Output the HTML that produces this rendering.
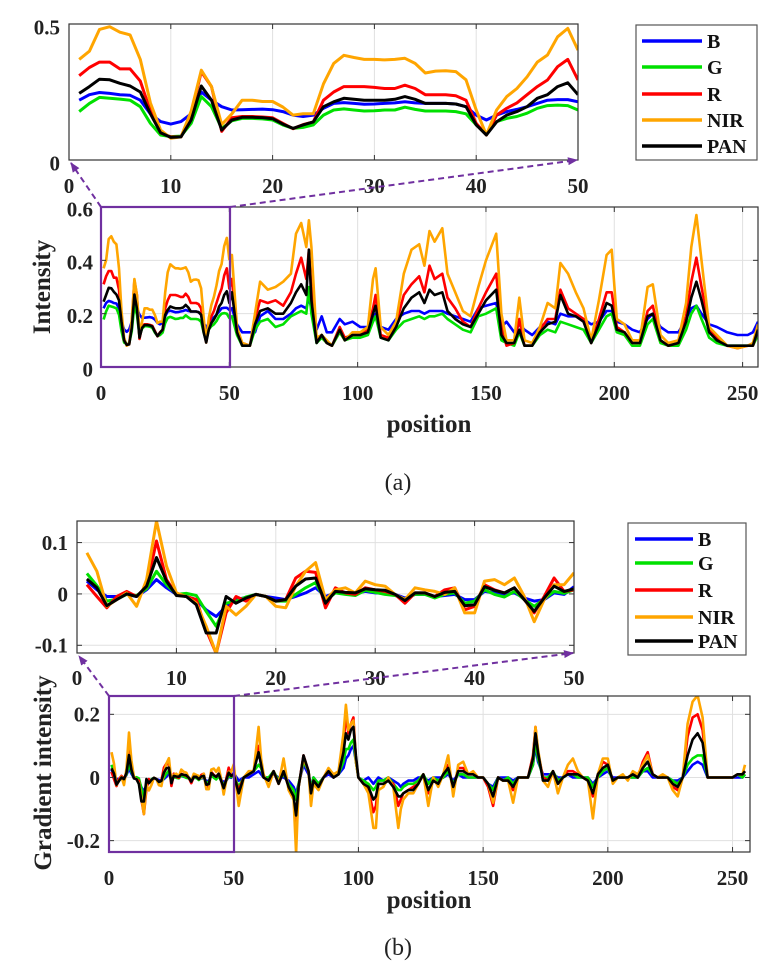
<!DOCTYPE html>
<html><head><meta charset="utf-8"><style>
html,body{margin:0;padding:0;background:#fff;}
svg{display:block;}
text{font-family:"Liberation Serif",serif;}
</style></head>
<body>
<svg id="fig" width="783" height="966" viewBox="0 0 783 966" xmlns="http://www.w3.org/2000/svg"></svg>
<script>
// ===== DATA =====
const seriesNames = ["B","G","R","NIR","PAN"];
const seriesColors = ["#0000ff","#00e000","#ff0000","#ffa500","#000000"];

// Panel (a) inset: positions 1..50
const aInsetPos = [1,2,3,4,5,6,7,8,9,10,11,12,13,14,15,16,17,18,19,20,21,22,23,24,25,26,27,28,29,30,31,32,33,34,35,36,37,38,39,40,41,42,43,44,45,46,47,48,49,50];
const aInsetB = [0.22,0.24,0.248,0.245,0.24,0.238,0.22,0.17,0.141,0.132,0.141,0.17,0.25,0.22,0.196,0.184,0.185,0.186,0.187,0.185,0.178,0.165,0.16,0.165,0.19,0.208,0.211,0.208,0.205,0.206,0.208,0.21,0.214,0.21,0.208,0.208,0.208,0.206,0.196,0.165,0.147,0.165,0.178,0.186,0.196,0.208,0.22,0.222,0.222,0.214];
const aInsetG = [0.178,0.208,0.23,0.227,0.224,0.22,0.196,0.135,0.092,0.086,0.088,0.135,0.233,0.196,0.116,0.144,0.153,0.153,0.151,0.147,0.129,0.116,0.12,0.129,0.165,0.184,0.188,0.184,0.18,0.181,0.184,0.184,0.194,0.186,0.18,0.18,0.18,0.178,0.17,0.129,0.098,0.141,0.153,0.16,0.172,0.19,0.2,0.202,0.2,0.184];
const aInsetR = [0.31,0.34,0.36,0.36,0.335,0.335,0.29,0.18,0.10,0.085,0.085,0.17,0.325,0.27,0.105,0.155,0.16,0.16,0.158,0.155,0.135,0.115,0.13,0.14,0.22,0.25,0.27,0.27,0.27,0.267,0.263,0.263,0.275,0.263,0.24,0.24,0.24,0.236,0.22,0.135,0.092,0.165,0.19,0.21,0.24,0.27,0.294,0.343,0.37,0.294];
const aInsetNIR = [0.37,0.40,0.48,0.49,0.47,0.46,0.37,0.21,0.11,0.08,0.085,0.18,0.33,0.27,0.13,0.17,0.22,0.22,0.215,0.215,0.195,0.165,0.17,0.17,0.28,0.355,0.385,0.377,0.37,0.37,0.368,0.37,0.374,0.355,0.32,0.327,0.328,0.325,0.295,0.184,0.092,0.184,0.233,0.263,0.306,0.36,0.386,0.453,0.484,0.404];
const aInsetPAN = [0.245,0.27,0.297,0.295,0.282,0.272,0.25,0.17,0.10,0.083,0.085,0.147,0.272,0.22,0.11,0.147,0.157,0.157,0.156,0.152,0.132,0.116,0.129,0.14,0.196,0.214,0.227,0.223,0.22,0.22,0.22,0.223,0.233,0.223,0.208,0.208,0.208,0.206,0.196,0.129,0.092,0.14,0.165,0.178,0.196,0.227,0.24,0.27,0.284,0.24];

// Panel (a) main continuation beyond 50
const aMainPos = [51,53,55,58,60,62,65,68,71,74,76,78,80,81,82,84,86,88,90,93,95,98,101,104,106,107,109,112,115,118,121,124,126,128,130,133,135,138,141,144,147,150,154,156,158,161,163,165,168,171,174,177,179,182,185,188,191,194,197,199,201,204,207,210,213,215,218,221,225,228,230,232,234,237,240,244,248,252,254,256];
const aMainNIR = [0.42,0.15,0.09,0.08,0.2,0.32,0.29,0.3,0.32,0.35,0.5,0.54,0.45,0.55,0.45,0.11,0.12,0.1,0.08,0.14,0.1,0.13,0.13,0.15,0.33,0.37,0.15,0.12,0.17,0.35,0.44,0.46,0.38,0.51,0.47,0.52,0.35,0.28,0.21,0.19,0.3,0.4,0.5,0.2,0.1,0.1,0.26,0.1,0.09,0.15,0.24,0.22,0.39,0.35,0.28,0.22,0.1,0.25,0.42,0.44,0.18,0.16,0.1,0.1,0.3,0.31,0.12,0.09,0.1,0.24,0.45,0.57,0.4,0.15,0.12,0.08,0.07,0.08,0.09,0.16];
const aMainR = [0.33,0.14,0.09,0.08,0.18,0.25,0.24,0.25,0.23,0.28,0.35,0.41,0.33,0.44,0.3,0.1,0.12,0.09,0.08,0.15,0.11,0.12,0.12,0.14,0.22,0.27,0.12,0.11,0.16,0.27,0.31,0.34,0.28,0.38,0.33,0.35,0.26,0.22,0.17,0.15,0.22,0.28,0.35,0.15,0.08,0.09,0.18,0.08,0.08,0.14,0.18,0.18,0.29,0.22,0.2,0.18,0.09,0.18,0.28,0.28,0.15,0.13,0.09,0.09,0.21,0.23,0.1,0.08,0.09,0.19,0.32,0.41,0.3,0.14,0.11,0.08,0.07,0.08,0.08,0.14];
const aMainPAN = [0.28,0.13,0.08,0.08,0.16,0.21,0.22,0.2,0.2,0.24,0.28,0.31,0.27,0.44,0.25,0.09,0.12,0.09,0.08,0.14,0.1,0.12,0.12,0.13,0.2,0.23,0.11,0.1,0.15,0.22,0.26,0.28,0.24,0.29,0.27,0.28,0.21,0.18,0.16,0.15,0.2,0.25,0.29,0.12,0.09,0.09,0.14,0.08,0.08,0.13,0.16,0.17,0.27,0.2,0.19,0.17,0.09,0.16,0.24,0.23,0.14,0.13,0.09,0.09,0.19,0.2,0.1,0.08,0.09,0.17,0.26,0.32,0.25,0.13,0.1,0.08,0.08,0.08,0.08,0.14];
const aMainB = [0.22,0.16,0.13,0.13,0.13,0.19,0.21,0.18,0.18,0.2,0.22,0.23,0.22,0.26,0.22,0.14,0.19,0.13,0.13,0.18,0.16,0.17,0.15,0.15,0.17,0.2,0.15,0.14,0.18,0.2,0.21,0.21,0.2,0.21,0.21,0.21,0.2,0.19,0.18,0.17,0.22,0.23,0.24,0.15,0.17,0.13,0.16,0.14,0.12,0.15,0.17,0.16,0.2,0.19,0.19,0.18,0.16,0.17,0.21,0.21,0.17,0.16,0.14,0.13,0.18,0.2,0.15,0.13,0.13,0.18,0.22,0.23,0.2,0.16,0.15,0.13,0.12,0.12,0.13,0.17];
const aMainG = [0.19,0.12,0.08,0.08,0.14,0.17,0.18,0.15,0.16,0.19,0.2,0.21,0.2,0.3,0.2,0.09,0.11,0.09,0.08,0.13,0.1,0.11,0.11,0.12,0.17,0.19,0.11,0.1,0.14,0.17,0.18,0.19,0.18,0.19,0.19,0.2,0.18,0.16,0.14,0.13,0.19,0.2,0.22,0.1,0.09,0.08,0.13,0.08,0.08,0.12,0.14,0.13,0.17,0.16,0.15,0.14,0.09,0.14,0.19,0.2,0.13,0.12,0.08,0.08,0.16,0.18,0.09,0.08,0.08,0.14,0.2,0.23,0.18,0.11,0.09,0.08,0.08,0.08,0.08,0.12];

// Panel (b) inset: positions 1..50
const bInsetPos = aInsetPos;
const bInsetNIR = [0.080,0.044,-0.024,-0.011,0.002,-0.024,0.028,0.142,0.054,0.002,-0.005,-0.018,-0.063,-0.116,-0.024,-0.041,-0.024,-0.001,-0.005,-0.024,-0.027,0.015,0.044,0.061,-0.011,0.008,0.012,0.002,0.025,0.018,0.015,-0.001,-0.011,0.012,0.008,0.005,-0.001,0.012,-0.037,-0.037,0.025,0.028,0.018,0.031,-0.005,-0.054,-0.011,0.018,0.018,0.041];
const bInsetR = [0.018,-0.005,-0.027,-0.005,0.005,-0.005,0.015,0.103,0.028,-0.001,-0.005,-0.011,-0.070,-0.116,-0.037,-0.005,-0.014,-0.001,-0.005,-0.014,-0.011,0.031,0.044,0.042,-0.027,0.012,0.002,-0.001,0.012,0.008,0.005,-0.001,-0.018,0.002,0.002,-0.005,0.008,0.012,-0.031,-0.024,0.018,0.008,0.002,0.012,-0.011,-0.037,-0.005,0.031,0.005,0.008];
const bInsetPAN = [0.029,0.012,-0.023,-0.011,0,-0.005,0.015,0.071,0.025,-0.003,-0.005,-0.021,-0.076,-0.076,-0.005,-0.018,-0.008,-0.001,-0.005,-0.014,-0.011,0.015,0.029,0.031,-0.018,0.005,0.003,0.002,0.010,0.008,0.007,-0.001,-0.013,0.002,0.002,-0.005,0.003,0.005,-0.023,-0.021,0.014,0.007,0.002,0.012,-0.011,-0.034,-0.008,0.015,0.005,0.010];
const bInsetB = [0.025,0.008,-0.005,-0.005,-0.001,-0.005,0.008,0.028,0.012,-0.001,-0.005,-0.011,-0.031,-0.044,-0.024,-0.011,-0.007,-0.001,-0.005,-0.008,-0.011,-0.005,0.002,0.012,-0.005,0.002,0.002,0.001,0.005,0.002,0.001,-0.001,-0.008,-0.001,-0.001,-0.005,-0.003,-0.001,-0.011,-0.011,0.005,0.002,-0.001,0.002,-0.008,-0.014,-0.011,0.002,-0.001,0.014];
const bInsetG = [0.040,0.016,-0.014,-0.010,-0.001,-0.003,0.010,0.044,0.018,-0.001,0.001,-0.003,-0.034,-0.063,-0.018,-0.014,-0.006,-0.001,-0.005,-0.014,-0.014,-0.001,0.012,0.022,-0.014,0.002,-0.001,-0.003,0.007,0.003,-0.001,-0.003,-0.010,-0.001,-0.001,-0.008,-0.001,0.002,-0.018,-0.014,0.008,-0.001,-0.006,0.005,-0.011,-0.024,-0.010,0.005,0.001,0.008];

// Panel (b) main continuation beyond 50
const bMainPos = [52,54,56,58,60,61,62,64,66,68,70,72,74,75,76,78,80,81,82,84,86,88,90,92,94,95,96,97,98,99,100,102,104,106,107,108,110,112,114,116,117,118,120,122,124,126,128,130,132,134,136,138,140,142,144,146,148,150,152,154,156,158,160,162,164,166,168,170,171,172,174,176,178,180,182,184,186,188,190,192,194,196,198,200,202,204,206,208,210,212,214,216,218,220,222,224,226,228,230,232,234,236,238,240,242,244,246,248,250,252,254,255];
const bMainNIR = [-0.09,0,0.02,0.02,0.16,0.06,0.01,-0.03,0.02,-0.02,0.06,-0.04,-0.07,-0.24,-0.03,0.06,0.02,-0.09,-0.02,-0.04,0,0.03,0.01,0.02,0.14,0.23,0.15,0.17,0.18,0.05,0,-0.02,-0.05,-0.16,-0.16,-0.04,-0.03,0,-0.03,-0.16,-0.1,-0.07,-0.05,-0.05,-0.02,0.01,-0.09,0,-0.03,0.01,0.07,-0.06,0.04,0.05,0.01,0.02,0,0,-0.02,-0.08,0,-0.01,-0.01,-0.08,0,0,0,0.06,0.16,0.09,-0.01,-0.03,0.02,-0.05,0,0.04,0.06,0.02,0,-0.01,-0.13,0.01,0.06,0.06,-0.02,0,0.01,-0.01,0.02,0.01,0.04,0.07,0.01,0,0.01,0,-0.04,-0.06,0,0.17,0.24,0.26,0.19,0,0,0,0,0,0,0.01,0.01,0.04];
const bMainR = [-0.04,0,0.01,0.02,0.1,0.04,0,-0.01,0.02,-0.02,0.02,-0.03,-0.06,-0.15,-0.03,0.07,0.02,-0.05,-0.01,-0.03,0,0.02,0,0.01,0.1,0.2,0.14,0.17,0.19,0.06,0,-0.02,-0.04,-0.11,-0.09,-0.02,-0.02,-0.01,-0.02,-0.09,-0.07,-0.05,-0.04,-0.03,-0.02,0.01,-0.05,-0.01,-0.02,0.01,0.04,-0.04,0.03,0.03,0.01,0.01,0,0,-0.03,-0.09,0,-0.01,-0.01,-0.04,0,0,0,0.07,0.16,0.08,0,-0.01,0.02,-0.02,0,0.02,0.02,0.01,0,-0.01,-0.06,0.01,0.05,0.04,-0.01,0,0,0,0.01,0,0.05,0.08,0.01,0,0,0,-0.03,-0.04,0,0.13,0.19,0.2,0.15,0,0,0,0,0,0,0.01,0.01,0.02];
const bMainPAN = [-0.05,0,0.01,0.02,0.08,0.04,0,-0.01,0.02,-0.02,0.02,-0.03,-0.06,-0.12,-0.03,0.07,0.02,-0.05,-0.01,-0.03,0,0.02,0,0.01,0.08,0.14,0.12,0.15,0.16,0.07,0,-0.02,-0.03,-0.07,-0.06,-0.02,-0.02,-0.01,-0.03,-0.06,-0.06,-0.05,-0.04,-0.04,-0.02,0.01,-0.04,-0.01,-0.02,0.01,0.03,-0.03,0.02,0.02,0.01,0.01,0,0,-0.02,-0.06,0,-0.01,-0.01,-0.03,0,0,0,0.06,0.14,0.08,-0.01,-0.01,0.02,-0.02,0,0.01,0.01,0.01,0,-0.01,-0.05,0.01,0.03,0.04,-0.01,0,0,0,0.01,0,0.03,0.05,0.01,0,0,0,-0.02,-0.03,0,0.07,0.12,0.14,0.11,0,0,0,0,0,0,0.01,0.01,0.02];
const bMainB = [-0.01,0,0,0.01,0.02,0.01,0,0,0.01,0,0,-0.01,-0.03,-0.05,-0.02,0.04,0.01,-0.03,0,-0.02,0,0.01,0,0.01,0.03,0.06,0.07,0.09,0.1,0.05,0,-0.01,0,-0.02,-0.01,0,-0.01,0,-0.01,-0.02,-0.03,-0.02,-0.01,-0.01,0,0,-0.01,0,0,0,0.01,-0.01,0.01,0,0,0,0,0,-0.02,-0.03,0,0,0,-0.01,0,0,0,0.04,0.1,0.05,0.01,0.01,0.01,0,0,0.01,0,0,0,0,-0.02,0,0.01,0.02,0,0,0,0,0,0,0.02,0.02,0,0,0,0,-0.01,-0.01,0,0.02,0.04,0.05,0.04,0,0,0,0,0,0,0,0,0.01];
const bMainG = [-0.03,0,0.01,0.02,0.04,0.03,0,0,0.02,-0.01,0.01,-0.02,-0.04,-0.07,-0.02,0.05,0.02,-0.04,0,-0.02,0,0.02,0,0.01,0.05,0.09,0.09,0.11,0.12,0.05,0,-0.01,-0.02,-0.04,-0.03,-0.01,-0.01,0,-0.02,-0.04,-0.04,-0.03,-0.02,-0.02,-0.01,0.01,-0.02,0,-0.01,0,0.02,-0.02,0.01,0.01,0,0,0,0,-0.02,-0.04,0,-0.01,0,-0.02,0,0,0,0.04,0.12,0.06,0,0,0.02,-0.01,0,0.01,0.01,0,0,0,-0.03,0,0.02,0.03,-0.01,0,0,0,0,0,0.02,0.03,0.01,0,0,0,-0.01,-0.02,0,0.04,0.06,0.07,0.07,0,0,0,0,0,0,0.01,0,0.01];

// Tick labels
const aInsetXTicks = [0,10,20,30,40,50];
const aInsetYTicks = [0,0.5];
const aInsetYLabels = ["0","0.5"];
const mainXTicks = [0,50,100,150,200,250];
const aMainYTicks = [0,0.2,0.4,0.6];
const aMainYLabels = ["0","0.2","0.4","0.6"];
const bInsetYTicks = [-0.1,0,0.1];
const bInsetYLabels = ["-0.1","0","0.1"];
const bMainYTicks = [-0.2,0,0.2];
const bMainYLabels = ["-0.2","0","0.2"];

// ===== DRAWING =====
const NS = "http://www.w3.org/2000/svg";
const svg = document.getElementById('fig');
function mk(tag, attrs, parent){
  const e = document.createElementNS(NS, tag);
  for (const k in attrs) e.setAttribute(k, attrs[k]);
  (parent||svg).appendChild(e);
  return e;
}
function scale(d0,d1,r0,r1){ return v => r0 + (v-d0)/(d1-d0)*(r1-r0); }

function drawAxes(cfg){
  const g = mk('g', {});
  
  
  const X = scale(cfg.xmin,cfg.xmax,cfg.L,cfg.R);
  const Y = scale(cfg.ymin,cfg.ymax,cfg.B,cfg.T);
  // grid
  cfg.xticks.forEach(t=>{
    const x = X(t);
    if (x>cfg.L+1 && x<cfg.R-1){
      const l = mk('line',{x1:x,x2:x,y1:cfg.T,y2:cfg.B,stroke:'#e0e0e0','stroke-width':1},g);
      
      
    }
  });
  cfg.yticks.forEach(t=>{
    const y = Y(t);
    if (y>cfg.T+1 && y<cfg.B-1){
      const l = mk('line',{x1:cfg.L,x2:cfg.R,y1:y,y2:y,stroke:'#e0e0e0','stroke-width':1},g);
      
      
    }
  });
  // series
  const sets = [cfg.B_, cfg.G_, cfg.R_, cfg.NIR_, cfg.PAN_];
  sets.forEach((vals,i)=>{
    const n = Math.min(vals.length, cfg.pos.length);
    let d = '';
    for (let k=0;k<n;k++){
      const px = X(cfg.pos[k]).toFixed(1), py = Y(vals[k]).toFixed(1);
      d += (k?'L':'M') + px + ' ' + py;
    }
    const p = mk('path',{d:d,fill:'none',stroke:seriesColors[i],'stroke-width':cfg.lw,'stroke-linejoin':'round','clip-path':'url(#'+cfg.clip+')'},g);
    
    
  });
  // frame
  const fr = mk('rect',{x:cfg.L,y:cfg.T,width:cfg.R-cfg.L,height:cfg.B-cfg.T,fill:'none',stroke:'#333','stroke-width':1.2},g);
  
  
  // ticks and labels
  cfg.xticks.forEach(t=>{
    const x = X(t);
    mk('line',{x1:x,x2:x,y1:cfg.B,y2:cfg.B-5,stroke:'#333'},g);
    mk('line',{x1:x,x2:x,y1:cfg.T,y2:cfg.T+5,stroke:'#333'},g);
    const tx = mk('text',{x:x,y:cfg.xLabY,'text-anchor':'middle','font-size':cfg.fs,'font-weight':'bold',fill:'#222'},g);
    tx.textContent = String(t);
    
    
  });
  cfg.yticks.forEach((t,i)=>{
    const y = Y(t);
    mk('line',{x1:cfg.L,x2:cfg.L+5,y1:y,y2:y,stroke:'#333'},g);
    mk('line',{x1:cfg.R,x2:cfg.R-5,y1:y,y2:y,stroke:'#333'},g);
    const tx = mk('text',{x:cfg.yLabX,y:y+cfg.fs*0.35+cfg.yOff,'text-anchor':'end','font-size':cfg.fs,'font-weight':'bold',fill:'#222'},g);
    tx.textContent = cfg.ylabels[i];
    
    
  });
}

const defs = mk('defs',{});
function clip(id,L,T,R,B){
  const c = mk('clipPath',{id:id},defs);
  mk('rect',{x:L,y:T,width:R-L,height:B-T},c);
}
clip('ca1',69,24,578,160);
clip('ca2',101,207,758,367);
clip('cb1',77,521,574,653);
clip('cb2',109,696,750,852);

// (a) inset
drawAxes({name:'inset-a',L:69,R:578,T:24,B:160,xmin:0,xmax:50,ymin:0,ymax:0.5,
  xticks:aInsetXTicks,yticks:aInsetYTicks,ylabels:aInsetYLabels,pos:aInsetPos,
  B_:aInsetB,G_:aInsetG,R_:aInsetR,NIR_:aInsetNIR,PAN_:aInsetPAN,lw:3,clip:'ca1',fs:21,xLabY:193,yLabX:60,yOff:3});
// (a) main
drawAxes({name:'main-a',L:101,R:758,T:207,B:367,xmin:0,xmax:256,ymin:0,ymax:0.6,
  xticks:mainXTicks,yticks:aMainYTicks,ylabels:aMainYLabels,pos:aInsetPos.concat(aMainPos),
  B_:aInsetB.concat(aMainB),G_:aInsetG.concat(aMainG),R_:aInsetR.concat(aMainR),NIR_:aInsetNIR.concat(aMainNIR),PAN_:aInsetPAN.concat(aMainPAN),
  lw:2.6,clip:'ca2',fs:21,xLabY:400,yLabX:93,yOff:2});
// (b) inset
drawAxes({name:'inset-b',L:77,R:574,T:521,B:653,xmin:0,xmax:50,ymin:-0.115,ymax:0.142,
  xticks:aInsetXTicks,yticks:bInsetYTicks,ylabels:bInsetYLabels,pos:bInsetPos,
  B_:bInsetB,G_:bInsetG,R_:bInsetR,NIR_:bInsetNIR,PAN_:bInsetPAN,lw:3,clip:'cb1',fs:21,xLabY:685,yLabX:68,yOff:0});
// (b) main
drawAxes({name:'main-b',L:109,R:750,T:696,B:852,xmin:0,xmax:257,ymin:-0.236,ymax:0.258,
  xticks:mainXTicks,yticks:bMainYTicks,ylabels:bMainYLabels,pos:bInsetPos.concat(bMainPos),
  B_:bInsetB.concat(bMainB),G_:bInsetG.concat(bMainG),R_:bInsetR.concat(bMainR),NIR_:bInsetNIR.concat(bMainNIR),PAN_:bInsetPAN.concat(bMainPAN),
  lw:2.6,clip:'cb2',fs:21,xLabY:885,yLabX:100,yOff:0});

// zoom rectangles and arrows
const purple = '#7030a0';
function zoomBox(L,T,R,B,name){
  const r = mk('rect',{x:L,y:T,width:R-L,height:B-T,fill:'none',stroke:purple,'stroke-width':2.2});
  
  
}
zoomBox(101,207,230,367,'zoom-region-a');
zoomBox(109,696,234,852,'zoom-region-b');
const mk2 = mk('marker',{id:'arr',markerWidth:10,markerHeight:8,refX:9,refY:4,orient:'auto',markerUnits:'userSpaceOnUse'},defs);
mk('path',{d:'M0 0 L10 4 L0 8 Z',fill:purple},mk2);
function arrow(x1,y1,x2,y2,name){
  const l = mk('line',{x1:x1,y1:y1,x2:x2,y2:y2,stroke:purple,'stroke-width':2,'stroke-dasharray':'6 4','marker-end':'url(#arr)'});
  
  
}
arrow(101,207,71,163,'zoom-arrow-a-left');
arrow(230,207,577,160,'zoom-arrow-a-right');
arrow(109,696,79,656,'zoom-arrow-b-left');
arrow(234,696,573,653,'zoom-arrow-b-right');

// legends
function legend(L,T,R,B,rows,lx1,lx2,tx,name){
  const g = mk('g',{});
  
  
  mk('rect',{x:L,y:T,width:R-L,height:B-T,fill:'#fff',stroke:'#555','stroke-width':1.2},g);
  rows.forEach((y,i)=>{
    const ln = mk('line',{x1:lx1,x2:lx2,y1:y,y2:y,stroke:seriesColors[i],'stroke-width':3.5},g);
    
    
    const t = mk('text',{x:tx,y:y+7,'font-size':20,'font-weight':'bold',fill:'#111'},g);
    t.textContent = seriesNames[i];
    
    
  });
}
legend(636,25,757,160,[41,67,94,120,146],642,702,707,'legend-a');
legend(628,523,746,655,[539,563,590,617,641],635,693,698,'legend-b');

// axis titles and captions
function txt(x,y,s,size,weight,name,rot){
  const t = mk('text',{x:x,y:y,'text-anchor':'middle','font-size':size,'font-weight':weight,fill:'#222'});
  if (rot) t.setAttribute('transform','rotate(-90 '+x+' '+y+')');
  t.textContent = s;
  
  
}
txt(429,432,'position',25,'bold','x-axis-title-a');
txt(429,908,'position',25,'bold','x-axis-title-b');
txt(50,287,'Intensity',25,'bold','y-axis-title-a',true);
txt(51,773,'Gradient intensity',25,'bold','y-axis-title-b',true);
txt(398,490,'(a)',24,'normal','caption-a');
txt(398,955,'(b)',24,'normal','caption-b');
</script>
</body></html>
